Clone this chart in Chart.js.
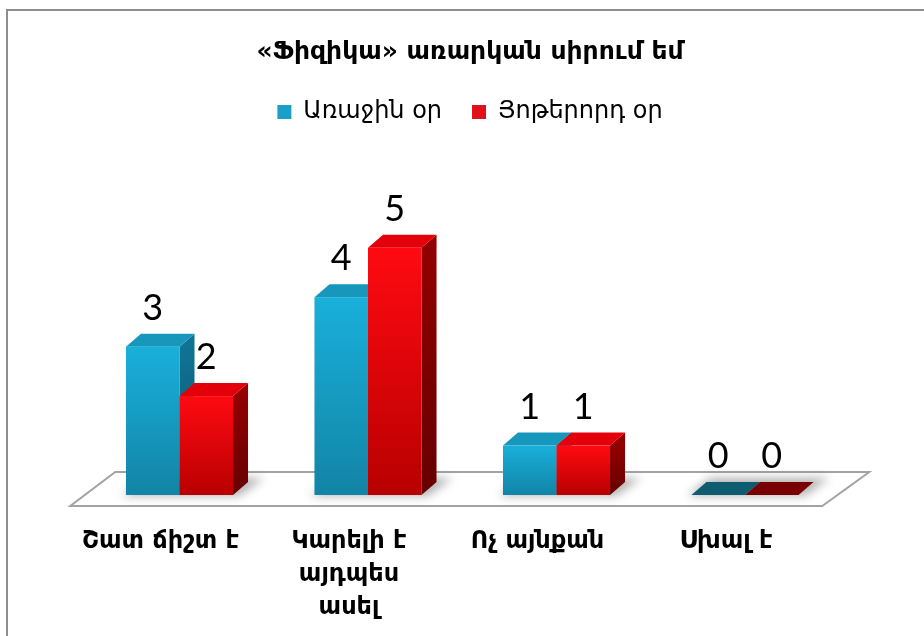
<!DOCTYPE html>
<html><head><meta charset="utf-8">
<script src="https://cdn.jsdelivr.net/npm/chart.js@4"></script>
<style>html,body{margin:0;padding:0;background:#fff;}canvas{display:block;}</style>
</head><body>
<canvas id="c" width="924" height="636"></canvas>
<script>
const titleText = '«Ֆիզիկա» առարկան սիրում եմ';
const categories = [['Շատ ճիշտ է'], ['Կարելի է', 'այդպես', 'ասել'], ['Ոչ այնքան'], ['Սխալ է']];
const seriesNames = ['Առաջին օր', 'Յոթերորդ օր'];
const firstDay = [3, 4, 1, 0];
const seventhDay = [2, 5, 1, 0];

const palettes = [
  {legend: '#1A9FC8', frontTop: '#19B0DA', frontBot: '#1284A6', sideTop: '#107393', sideBot: '#0A566C', top: '#1797BC', zero: '#0D5C70'},
  {legend: '#E0101A', frontTop: '#FF0A12', frontBot: '#B80000', sideTop: '#920000', sideBot: '#660000', top: '#E3000B', zero: '#780000'}
];
const DX = 15, DY = -13;
const ARM = "'DejaVu Sans', sans-serif";

const frame = {
  id: 'frame',
  beforeDraw(chart) {
    const ctx = chart.ctx;
    ctx.save();
    ctx.fillStyle = '#8E8E8E';
    ctx.fillRect(6, 9, 924, 2);
    ctx.fillRect(6, 9, 2, 636);
    ctx.restore();
  }
};

function geom(el) {
  const p = el.getProps(['x', 'y', 'base', 'width'], true);
  return {x0: p.x - p.width / 2, x1: p.x + p.width / 2, top: Math.min(p.y, p.base), base: p.base, cx: p.x};
}

const bars3d = {
  id: 'bars3d',
  beforeDatasetsDraw(chart) {
    const ctx = chart.ctx, a = chart.chartArea;
    const b = a.bottom;
    ctx.save();
    ctx.beginPath();
    ctx.moveTo(a.left - 15, b + 11);
    ctx.lineTo(a.right - 17, b + 11);
    ctx.lineTo(a.right + 30, b - 23);
    ctx.lineTo(a.left + 30, b - 23);
    ctx.closePath();
    ctx.fillStyle = '#FFFFFF';
    ctx.fill();
    ctx.lineWidth = 2;
    ctx.strokeStyle = '#A3A3A3';
    ctx.stroke();
    ctx.filter = 'blur(5px)';
    ctx.fillStyle = 'rgba(0,0,0,0.30)';
    const n = chart.data.labels.length;
    for (let j = 0; j < n; j++) {
      const g0 = geom(chart.getDatasetMeta(0).data[j]);
      const g1 = geom(chart.getDatasetMeta(1).data[j]);
      ctx.beginPath();
      ctx.moveTo(g0.x0 - 4, b + 1);
      ctx.lineTo(g1.x1 + 6, b + 1);
      ctx.lineTo(g1.x1 + DX + 16, b + DY - 4);
      ctx.lineTo(g0.x0 + DX + 4, b + DY - 4);
      ctx.closePath();
      ctx.fill();
    }
    ctx.filter = 'none';
    ctx.restore();
  },
  afterDatasetsDraw(chart) {
    const ctx = chart.ctx;
    const n = chart.data.labels.length;
    ctx.save();
    for (let j = 0; j < n; j++) {
      for (let d = 0; d < chart.data.datasets.length; d++) {
        const pal = palettes[d];
        const el = chart.getDatasetMeta(d).data[j];
        const g = geom(el);
        const v = chart.data.datasets[d].data[j];
        if (v === 0) {
          ctx.beginPath();
          ctx.moveTo(g.x0, g.base);
          ctx.lineTo(g.x1, g.base);
          ctx.lineTo(g.x1 + DX, g.base + DY);
          ctx.lineTo(g.x0 + DX, g.base + DY);
          ctx.closePath();
          ctx.fillStyle = pal.zero;
          ctx.fill();
          continue;
        }
        let gr = ctx.createLinearGradient(0, g.top, 0, g.base);
        gr.addColorStop(0, pal.sideTop); gr.addColorStop(1, pal.sideBot);
        ctx.beginPath();
        ctx.moveTo(g.x1, g.top);
        ctx.lineTo(g.x1 + DX, g.top + DY);
        ctx.lineTo(g.x1 + DX, g.base + DY);
        ctx.lineTo(g.x1, g.base);
        ctx.closePath();
        ctx.fillStyle = gr; ctx.fill();
        ctx.beginPath();
        ctx.moveTo(g.x0, g.top);
        ctx.lineTo(g.x0 + DX, g.top + DY);
        ctx.lineTo(g.x1 + DX, g.top + DY);
        ctx.lineTo(g.x1, g.top);
        ctx.closePath();
        ctx.fillStyle = pal.top; ctx.fill();
        gr = ctx.createLinearGradient(0, g.top, 0, g.base);
        gr.addColorStop(0, pal.frontTop); gr.addColorStop(1, pal.frontBot);
        ctx.fillStyle = gr;
        ctx.fillRect(g.x0, g.top, g.x1 - g.x0, g.base - g.top);
      }
    }
    ctx.fillStyle = '#000000';
    ctx.font = "36px Lato, 'Liberation Sans', sans-serif";
    ctx.textAlign = 'center';
    ctx.textBaseline = 'alphabetic';
    for (let d = 0; d < chart.data.datasets.length; d++) {
      chart.getDatasetMeta(d).data.forEach((el, j) => {
        const g = geom(el);
        ctx.fillText(String(chart.data.datasets[d].data[j]), g.cx, g.top - 27);
      });
    }
    ctx.restore();
  }
};

new Chart(document.getElementById('c'), {
  type: 'bar',
  data: {
    labels: categories,
    datasets: [
      {label: seriesNames[0], data: firstDay, backgroundColor: 'rgba(0,0,0,0)', legendColor: palettes[0].legend},
      {label: seriesNames[1], data: seventhDay, backgroundColor: 'rgba(0,0,0,0)', legendColor: palettes[1].legend}
    ]
  },
  options: {
    responsive: false,
    animation: false,
    events: [],
    layout: {padding: {left: 85.25, right: 69.25, top: 0, bottom: 11}},
    datasets: {bar: {categoryPercentage: 0.568, barPercentage: 1}},
    plugins: {
      title: {
        display: true, text: titleText, color: '#000',
        font: {family: ARM, size: 25, weight: 'bold', lineHeight: 1.2},
        padding: {top: 37, bottom: 3}
      },
      legend: {
        display: true, position: 'top',
        labels: {
          color: '#000', boxWidth: 14, boxHeight: 14, padding: 30,
          font: {family: ARM, size: 24},
          generateLabels(chart) {
            return chart.data.datasets.map((ds, i) => ({
              text: ds.label, fillStyle: ds.legendColor, strokeStyle: ds.legendColor,
              lineWidth: 0, hidden: false, datasetIndex: i, fontColor: '#000'
            }));
          }
        }
      },
      tooltip: {enabled: false}
    },
    scales: {
      x: {
        grid: {display: false, drawTicks: false}, border: {display: false},
        ticks: {
          color: '#000', autoSkip: false, maxRotation: 0, padding: 30, labelOffset: -19,
          font: {family: ARM, size: 24, weight: 'bold', lineHeight: 1.375}
        },
        afterFit(s) { s.height = 130; }
      },
      y: {
        display: true, position: 'right', min: 0, max: 7.3,
        grid: {display: false, drawTicks: false}, border: {display: false},
        ticks: {display: false},
        afterFit(s) { s.width = 15.5; }
      }
    }
  },
  plugins: [frame, bars3d]
});
</script>
</body></html>
